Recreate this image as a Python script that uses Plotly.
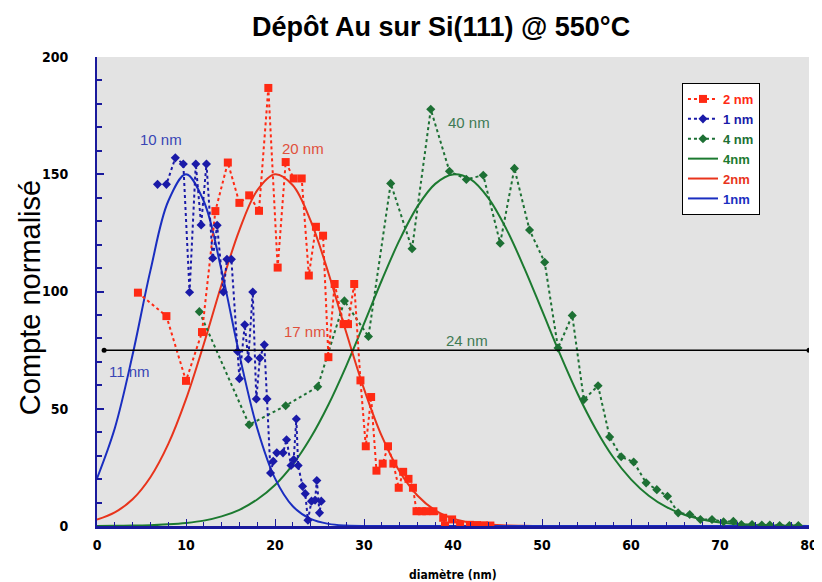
import plotly.graph_objects as go

# Histogram data : diameter (nm) / normalised count
d_1nm = [6.8, 7.8, 8.8, 9.7, 10.4, 11.1, 11.7, 12.3, 13.0, 13.5, 14.2, 14.6, 15.1,
         15.8, 16.0, 16.6, 17.0, 17.5, 17.9, 18.3, 18.8, 19.1, 19.5, 19.8, 20.2,
         20.9, 21.3, 21.8, 22.1, 22.4, 22.6, 23.1, 23.4, 23.7, 24.1, 24.5, 24.7,
         25.0, 25.2]
n_1nm = [145.7, 145.7, 157.0, 154.4, 99.7, 154.4, 128.4, 154.4, 114.2, 128.2, 99.8,
         113.7, 113.7, 74.4, 62.8, 85.8, 71.2, 99.8, 54.2, 71.6, 77.3, 54.2, 22.6,
         27.6, 31.2, 31.2, 36.8, 25.8, 28.3, 45.6, 25.8, 16.9, 13.8, 2.5, 10.6,
         11.0, 19.4, 5.6, 10.6]

d_2nm = [4.6, 7.8, 10.0, 11.8, 13.3, 14.7, 16.0, 17.1, 18.2, 19.25, 20.3, 21.2, 22.1,
         23.0, 23.8, 24.6, 25.4, 26.0, 26.7, 27.7, 28.2, 28.9, 29.6, 30.2, 30.8,
         31.4, 32.1, 32.7, 33.3, 33.9, 34.4, 35.0, 35.5, 35.9, 36.5, 37.0, 37.8,
         38.9, 39.1, 39.9, 40.8, 41.9, 42.7, 43.5, 44.2]
n_2nm = [99.5, 89.5, 61.9, 82.7, 134.3, 155.0, 137.8, 141.0, 134.4, 186.8, 110.2,
         155.2, 148.2, 148.2, 106.8, 127.6, 123.8, 72.0, 103.2, 86.1, 86.1, 103.2,
         62.1, 34.0, 55.0, 23.6, 26.6, 34.0, 26.6, 16.3, 23.1, 20.1, 16.3, 6.3, 6.3,
         6.3, 6.3, 3.5, 0.2, 2.8, 0.5, 0.5, 0.4, 0.3, 0.2]

d_4nm = [11.5, 17.1, 21.2, 24.8, 27.8, 30.5, 33.0, 35.4, 37.5, 39.6, 41.5, 43.4, 45.3,
         46.9, 48.6, 50.3, 51.8, 53.4, 54.7, 56.3, 57.6, 58.9, 60.3, 61.7, 62.9,
         64.1, 65.3, 66.6, 67.8, 69.1, 70.4, 71.5, 72.4, 73.6, 74.7, 75.6, 76.7,
         77.8, 78.8]
n_4nm = [91.4, 43.2, 51.3, 59.4, 96.0, 80.8, 146.1, 118.2, 177.7, 151.3, 147.8, 149.6,
         120.6, 152.5, 126.2, 112.5, 75.9, 89.8, 53.9, 59.8, 38.0, 29.5, 27.3, 18.4,
         15.5, 12.7, 5.6, 4.9, 2.8, 2.8, 1.8, 2.0, 0.6, 0.6, 0.4, 0.4, 0.2, 0.2, 0.2]

# Fitted curves, sampled every 2 nm
x_fit = list(range(0, 82, 2))
fit_1nm = [20.3, 41.7, 73.0, 108.9, 138.5, 150.0, 138.5, 108.9, 73.0, 41.7, 20.3, 8.4,
           3.0, 0.9, 0.2, 0.0, 0.0, 0.0, 0.0, 0.0, 0.0, 0.0, 0.0, 0.0, 0.0, 0.0, 0.0,
           0.0, 0.0, 0.0, 0.0, 0.0, 0.0, 0.0, 0.0, 0.0, 0.0, 0.0, 0.0, 0.0, 0.0]
fit_2nm = [2.7, 5.8, 11.4, 20.8, 34.9, 54.1, 77.6, 103.0, 126.2, 143.1, 150.0, 145.3,
           130.2, 107.9, 82.6, 58.5, 38.3, 23.2, 13.0, 6.7, 3.2, 1.4, 0.6, 0.2, 0.1,
           0.0, 0.0, 0.0, 0.0, 0.0, 0.0, 0.0, 0.0, 0.0, 0.0, 0.0, 0.0, 0.0, 0.0, 0.0, 0.0]
fit_4nm = [0.0, 0.1, 0.2, 0.3, 0.7, 1.3, 2.3, 4.1, 6.9, 11.3, 17.5, 26.2, 37.6, 51.7,
           68.2, 86.3, 104.8, 122.0, 136.2, 145.9, 149.9, 147.8, 139.7, 126.6, 110.1,
           91.9, 73.5, 56.4, 41.6, 29.3, 19.9, 12.9, 8.0, 4.8, 2.8, 1.5, 0.8, 0.4,
           0.2, 0.1, 0.0]

# Half-maximum line
half_x = [0.8, 80]
half_y = [75, 75]

# Labels: text, x, y, colour
labels = [
    ("10 nm", 7.2, 165, "#3845b5"),
    ("20 nm", 23.2, 161, "#e0503c"),
    ("40 nm", 41.8, 172, "#3f7a55"),
    ("17 nm", 23.4, 83, "#e0503c"),
    ("11 nm", 3.6, 66, "#3845b5"),
    ("24 nm", 41.6, 79, "#3f7a55"),
]

RED = "#ff2a14"
BLUE = "#1a1aa8"
GREEN = "#1d7034"
AXIS_BLUE = "#1a1a9c"

tick_font = dict(family="Liberation Sans Narrow, DejaVu Sans Condensed, Arial Narrow",
                 size=14, color="black", weight="bold")


def colored(name, color):
    return f"<span style='color:{color}'><b>{name}</b></span>"


fig = go.Figure()

# fits
fig.add_trace(go.Scatter(x=x_fit, y=fit_4nm, mode="lines", line_shape="spline",
                         line=dict(color="#1c7a30", width=2),
                         name=colored("4nm", "#1c7a30"), legendrank=4))
fig.add_trace(go.Scatter(x=x_fit, y=fit_2nm, mode="lines", line_shape="spline",
                         line=dict(color="#e8341c", width=2),
                         name=colored("2nm", "#e8341c"), legendrank=5))
fig.add_trace(go.Scatter(x=x_fit, y=fit_1nm, mode="lines", line_shape="spline",
                         line=dict(color="#1a2ec0", width=2),
                         name=colored("1nm", "#1a2ec0"), legendrank=6))

# data
fig.add_trace(go.Scatter(x=d_4nm, y=n_4nm, mode="lines+markers",
                         line=dict(color=GREEN, width=2, dash="dot"),
                         marker=dict(symbol="diamond", size=7, color=GREEN),
                         name=colored("4 nm", GREEN), legendrank=3))
fig.add_trace(go.Scatter(x=d_2nm, y=n_2nm, mode="lines+markers",
                         line=dict(color=RED, width=2, dash="dot"),
                         marker=dict(symbol="square", size=8, color=RED),
                         name=colored("2 nm", RED), legendrank=1))
fig.add_trace(go.Scatter(x=d_1nm, y=n_1nm, mode="lines+markers",
                         line=dict(color=BLUE, width=2, dash="dot"),
                         marker=dict(symbol="diamond", size=7, color=BLUE),
                         name=colored("1 nm", BLUE), legendrank=2))

fig.add_trace(go.Scatter(x=half_x, y=half_y, mode="lines+markers",
                         line=dict(color="black", width=1.5),
                         marker=dict(size=5, color="black"),
                         showlegend=False, hoverinfo="skip"))

for text, lx, ly, col in labels:
    fig.add_annotation(x=lx, y=ly, text=text, showarrow=False,
                       font=dict(family="Liberation Sans, Arial", size=15, color=col))

fig.update_xaxes(
    range=[0, 80], dtick=10, showgrid=False, zeroline=False,
    showline=True, linecolor=AXIS_BLUE, linewidth=3,
    ticks="inside", ticklen=7, tickwidth=1, tickcolor=AXIS_BLUE,
    minor=dict(ticks="inside", dtick=2, ticklen=4, tickcolor=AXIS_BLUE, showgrid=False),
    tickfont=tick_font, ticklabelstandoff=4, automargin=False,
)
fig.update_yaxes(
    range=[0, 200], dtick=50, showgrid=False, zeroline=False,
    showline=True, linecolor=AXIS_BLUE, linewidth=2,
    ticks="inside", ticklen=7, tickwidth=2, tickcolor=AXIS_BLUE,
    minor=dict(ticks="inside", dtick=10, ticklen=5, tickcolor=AXIS_BLUE, showgrid=False),
    tickfont=tick_font, ticklabelstandoff=24, automargin=False,
)

# the page body adds an 8 px offset, so the figure is 8 px smaller than the window
fig.add_annotation(text="Compte normalisé", xref="paper", yref="paper",
                   x=-0.094, y=0.486, xanchor="center", yanchor="middle",
                   textangle=-90, showarrow=False,
                   font=dict(family="Liberation Sans, Arial", size=29, color="black"))
fig.add_annotation(text="diamètre (nm)", xref="paper", yref="paper",
                   x=0.5, y=-0.1045, xanchor="center", yanchor="middle", showarrow=False,
                   font=dict(family="Liberation Sans Narrow, DejaVu Sans Condensed",
                             size=12, color="black", weight="bold"))

fig.update_layout(
    width=814, height=574,
    margin=dict(l=89, r=13, t=49, b=56, autoexpand=False),
    title=dict(text="Dépôt Au sur Si(111) @ 550°C", x=0.532, xanchor="center",
               y=1 - 19 / 574, yanchor="middle",
               font=dict(family="Liberation Sans, Arial", size=27, color="black",
                         weight="bold")),
    plot_bgcolor="#e3e3e3",
    paper_bgcolor="white",
    legend=dict(x=0.8216, y=0.9446, xanchor="left", yanchor="top",
                bgcolor="white", bordercolor="black", borderwidth=1,
                font=dict(family="Liberation Sans, Arial", size=13),
                tracegroupgap=0, itemwidth=30),
    showlegend=True,
)

fig.write_html("out.html")
